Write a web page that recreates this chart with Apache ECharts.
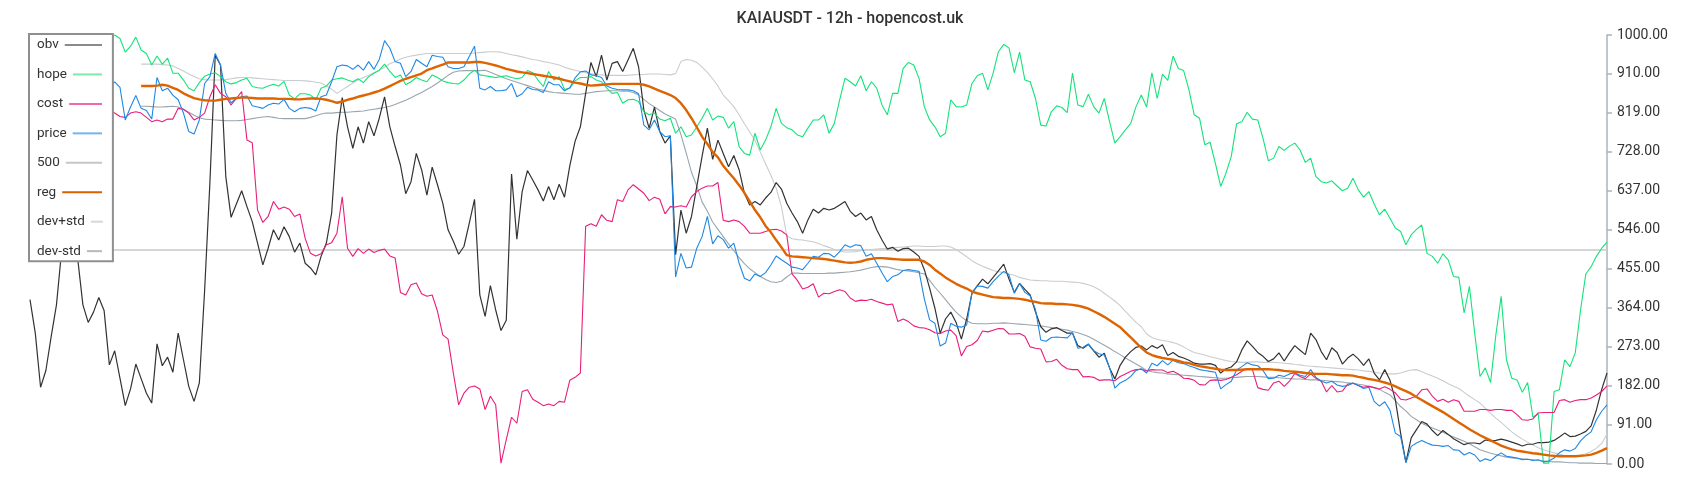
<!DOCTYPE html>
<html>
<head>
<meta charset="utf-8">
<script src="https://cdn.jsdelivr.net/npm/echarts@6/dist/echarts.min.js"></script>
<style>
  html, body { margin: 0; padding: 0; background: #fff; }
  #chart { width: 1700px; height: 500px; }
</style>
</head>
<body>
<div id="chart"></div>
<script>
const obv = [
383,305,179,218,297,371,500,580,540,480,
371,330,354,388,358,231,264,200,136,175,
233,199,165,142,280,229,249,214,305,243,
181,146,189,405,657,953,930,670,575,606,
637,600,565,515,464,503,546,522,553,530,
494,515,468,457,441,484,515,585,767,854,
786,736,786,748,798,765,806,856,786,740,
697,630,658,724,686,627,692,651,608,546,
519,489,507,561,617,394,344,416,359,311,
335,676,524,635,684,662,639,613,647,616,
652,622,695,752,786,864,936,903,953,895,
934,938,915,942,969,926,825,783,832,775,
748,765,488,592,538,577,647,717,783,710,
755,724,693,719,686,631,604,612,604,620,
633,656,641,608,585,565,538,569,594,585,
596,592,596,604,612,589,577,585,569,577,
546,522,501,505,496,502,503,494,484,453,
410,363,305,338,354,330,291,338,398,415,
431,420,435,450,466,431,400,421,407,394,
355,320,307,315,318,311,305,305,276,270,
279,264,249,258,224,198,230,249,262,272,
275,266,276,270,278,253,260,251,247,242,
235,233,233,234,230,212,222,226,238,266,
287,274,260,251,239,245,259,240,259,276,
265,255,305,290,262,243,271,260,233,247,
256,245,230,245,212,196,220,195,150,72,
4,61,80,99,93,78,66,78,69,59,
52,45,49,49,47,56,54,55,58,55,
51,47,42,46,46,50,50,51,55,63,
72,64,65,70,76,89,126,174,212
];
const hope = [
950,960,975,990,985,970,975,990,1000,985,
975,965,975,985,980,990,1000,992,960,974,
995,965,957,930,951,932,946,911,911,895,
876,870,889,904,909,912,903,891,886,889,
895,899,880,877,876,881,885,881,892,860,
851,863,863,860,849,876,881,895,898,900,
895,891,898,889,903,911,918,932,915,901,
907,884,891,901,895,891,907,901,893,889,
887,886,895,909,918,907,905,903,901,903,
905,901,898,901,917,912,895,880,915,895,
903,873,876,893,901,901,903,895,891,876,
864,866,841,849,850,845,821,814,818,804,
800,806,771,786,763,767,786,806,829,802,
811,808,783,798,740,724,720,771,732,755,
786,829,794,784,779,767,763,783,802,802,
814,771,794,849,899,891,881,905,870,891,
876,837,814,864,864,922,936,930,899,833,
802,786,763,771,849,833,832,837,887,905,
911,872,911,961,978,970,912,960,895,891,
852,790,788,821,835,831,819,911,837,833,
862,833,818,852,798,748,763,779,794,833,
860,832,912,852,909,894,951,922,917,872,
814,806,744,750,701,647,678,717,793,798,
820,804,802,759,707,713,740,731,741,748,
732,703,713,670,658,655,660,648,637,643,
666,639,622,635,606,581,594,573,550,542,
511,534,547,557,491,484,468,490,476,437,
435,352,414,305,204,224,190,301,391,243,
200,196,167,190,109,117,2,2,169,173,
243,227,259,359,443,460,484,503,517
];
const cost = [
815,820,812,818,825,815,808,815,822,818,
812,820,826,818,822,827,818,810,808,818,
821,818,808,798,802,798,804,804,829,827,
818,802,808,818,856,884,864,856,837,852,
868,755,749,592,563,577,612,594,599,594,
577,583,526,491,485,490,511,516,538,623,
503,484,502,491,501,493,498,501,485,480,
400,394,418,422,397,391,394,356,301,291,
212,138,165,179,182,175,127,158,138,2,
57,109,95,169,173,151,144,136,140,136,
146,144,195,202,212,554,560,554,581,568,
565,616,612,639,651,641,631,614,622,617,
583,600,599,602,599,623,635,643,648,648,
656,568,565,569,565,554,538,538,538,542,
546,547,543,534,443,428,408,412,420,389,
398,397,402,406,402,387,379,382,381,384,
379,375,371,373,332,338,332,322,318,317,
313,306,304,310,312,299,252,274,278,288,
310,308,312,316,315,303,303,304,298,273,
270,268,238,239,244,230,222,220,220,203,
204,202,195,196,196,194,204,210,216,220,
221,217,220,219,219,213,216,210,200,199,
195,185,184,195,196,195,197,202,208,216,
222,220,178,174,172,189,193,181,193,211,
204,199,210,200,193,168,183,168,170,186,
188,183,179,181,178,175,180,174,166,151,
149,154,158,173,175,158,146,151,144,150,
146,123,123,123,127,127,125,127,127,125,
125,115,103,102,105,119,120,120,120,148,
150,144,148,150,150,154,161,169,182
];
const price = [
870,880,890,875,860,880,895,870,855,865,
880,870,885,880,870,878,891,878,802,832,
859,829,824,804,901,870,876,860,849,818,
775,769,802,887,903,957,930,864,842,852,
856,858,835,832,829,837,841,839,850,829,
821,829,831,829,823,856,860,891,926,930,
928,920,930,918,938,920,943,987,969,938,
934,903,915,943,934,926,953,950,948,926,
922,922,926,950,974,876,872,880,870,870,
872,887,856,863,878,873,872,866,891,884,
884,870,877,900,914,916,907,905,901,881,
876,873,872,872,870,863,790,779,802,775,
763,765,436,491,457,459,503,530,577,513,
532,523,503,515,468,433,427,443,437,446,
464,485,476,468,459,457,453,468,484,482,
491,490,482,495,511,505,511,509,484,490,
468,446,425,437,441,451,453,451,449,385,
336,328,275,282,328,321,319,324,400,415,
414,410,425,438,449,441,398,421,400,392,
360,289,286,295,296,295,294,306,270,272,
280,264,257,254,225,177,189,195,204,218,
222,212,235,229,241,231,242,236,234,229,
225,220,218,216,214,175,185,193,219,227,
236,231,229,218,199,200,207,204,210,212,
207,204,220,202,193,189,193,184,181,183,
189,183,176,179,146,135,145,125,72,64,
3,41,49,55,49,44,43,41,43,33,
32,21,27,21,6,12,8,18,26,18,
16,14,10,11,8,10,5,7,14,26,
33,30,36,54,66,75,103,123,138
];
const reg = [
null,null,null,null,null,null,null,null,null,null,
null,null,null,null,null,null,null,null,null,null,
null,881,881,881,882,884,882,877,872,864,
858,853,850,848,847,847,849,851,852,853,
854,854,853,852,852,852,852,851,851,851,
850,850,851,852,852,851,849,846,842,845,
849,852,856,859,862,866,870,875,881,887,
893,898,902,906,910,918,922,927,931,936,
936,936,936,936,937,937,935,932,929,925,
921,918,915,913,911,909,907,905,903,901,
898,895,892,889,887,884,882,883,884,885,
886,886,886,886,886,886,884,880,875,870,
865,860,853,841,825,806,785,763,746,727,
715,695,680,666,650,632,612,592,575,555,
540,522,505,487,484,483,482,481,480,479,
478,476,474,472,470,469,470,472,476,478,
480,480,479,478,477,476,476,476,476,472,
464,453,444,435,427,420,414,409,402,398,
395,392,389,388,387,387,386,385,383,380,
378,375,374,374,373,373,372,371,369,366,
362,356,350,343,335,327,319,307,295,283,
271,260,254,250,247,245,243,240,237,235,
231,228,226,224,222,220,219,219,219,220,
221,221,221,221,221,220,219,217,216,215,
214,212,211,210,210,210,209,208,207,207,
206,203,201,198,196,193,190,186,181,175,
170,164,156,149,142,135,128,121,113,105,
97,89,81,74,67,61,55,49,43,38,
34,31,29,27,25,24,22,20,19,18,
18,18,18,19,20,22,26,31,37
];
const devPlus = [
null,null,null,null,null,null,null,null,null,null,
null,null,null,null,null,null,null,null,null,null,
null,932,932,932,932,931,930,928,922,916,
909,903,898,896,895,895,895,896,898,900,
901,901,900,899,898,897,896,895,894,894,
894,894,893,892,890,888,882,874,864,872,
880,888,895,901,906,912,918,925,933,938,
944,948,951,953,955,957,957,957,957,957,
957,957,957,957,958,959,960,961,961,960,
957,954,952,949,946,943,941,938,936,933,
930,925,921,918,915,912,910,908,907,906,
906,906,906,906,907,908,908,909,909,909,
908,907,910,938,943,941,936,925,913,898,
881,860,847,833,814,793,774,754,727,700,
673,643,600,532,525,523,522,520,518,514,
509,505,500,497,494,494,495,497,499,500,
501,502,503,504,505,506,507,508,508,507,
507,507,508,508,506,500,492,483,474,467,
461,456,451,448,446,443,440,435,432,429,
428,427,427,426,426,426,425,424,423,421,
418,413,407,398,389,380,369,356,343,330,
320,303,295,291,288,286,283,279,273,266,
260,257,254,250,247,244,241,239,238,237,
237,238,238,237,237,237,236,235,234,232,
231,229,228,227,226,225,224,223,222,221,
220,219,217,216,214,212,211,210,210,212,
216,219,220,215,210,205,200,194,187,181,
176,167,158,150,142,130,118,107,97,86,
75,66,58,51,44,38,33,29,26,23,
20,19,19,21,24,29,37,48,70
];
const devMinus = [
null,null,null,null,null,null,null,null,null,null,
null,null,null,null,null,null,null,null,null,null,
null,834,834,833,832,832,833,834,832,827,
820,813,807,804,803,802,801,800,800,800,
801,803,805,807,809,810,808,806,805,805,
805,805,805,808,812,816,818,818,819,820,
820,821,822,823,825,827,829,831,834,838,
843,848,854,860,866,873,880,888,897,906,
913,916,917,917,917,917,918,913,908,903,
898,894,890,886,882,878,874,871,868,866,
865,864,863,862,862,864,866,868,869,870,
870,870,869,869,866,860,850,840,832,824,
816,810,804,768,725,680,648,611,589,564,
547,530,513,497,481,467,455,446,437,430,
425,423,426,436,445,445,444,444,444,444,
444,445,445,446,447,448,450,452,455,458,
460,460,459,456,453,451,450,448,446,443,
428,412,398,383,368,354,343,334,328,327,
327,327,328,328,329,328,327,326,325,324,
323,322,320,318,316,314,312,309,306,302,
297,291,284,277,270,262,255,247,240,233,
226,218,215,213,212,210,209,208,207,206,
205,204,203,202,201,200,200,201,202,203,
204,204,204,203,202,202,201,200,199,198,
198,197,196,196,195,194,193,192,191,189,
188,186,184,181,178,174,167,161,148,134,
124,111,103,95,89,84,79,74,68,63,
58,53,47,40,33,29,25,22,19,16,
14,13,12,11,10,8,7,6,5,5,
4,3,3,2,2,2,1,1,1
];
const threshold = 500;
const yTickInterval = 91;
const categories = obv.map((_, i) => i);
const seriesNames = ['obv', 'hope', 'cost', 'price', '500', 'reg', 'dev+std', 'dev-std'];

const lineColors = {
  'obv': '#333333', 'hope': '#14e37a', 'cost': '#e91e7a', 'price': '#1e88e5',
  '500': '#c8c8c8', 'reg': '#dd6400', 'dev+std': '#c8cdd1', 'dev-std': '#9aa5ad'
};
const legendColors = {
  'obv': '#8a8a8a', 'hope': '#7ee8ab', 'cost': '#ee6aaa', 'price': '#74b3ec',
  '500': '#c6c6c6', 'reg': '#d96100', 'dev+std': '#d4d8db', 'dev-std': '#b1bac0'
};

const FONT = 'Roboto, "Noto Sans", sans-serif';
const LEGEND_FS = 13.5;
const ctx = document.createElement('canvas').getContext('2d');
ctx.font = LEGEND_FS + 'px Roboto';
const rich = { t: { fontSize: LEGEND_FS, fontFamily: FONT, color: '#333' }, g: { width: 6, height: 2 } };
seriesNames.forEach((n, k) => {
  const w = ctx.measureText(n).width;
  rich['l' + k] = { width: Math.max(12, 65 - w - 6), height: 2, backgroundColor: legendColors[n], verticalAlign: 'middle' };
});

function lineSeries(name, data, width, z) {
  return {
    name, type: 'line', data, showSymbol: false, symbol: 'none', z: z || 2,
    lineStyle: { color: lineColors[name], width: width },
    itemStyle: { color: lineColors[name] },
    emphasis: { disabled: true }
  };
}

const chart = echarts.init(document.getElementById('chart'), null, { renderer: 'canvas' });
chart.setOption({
  animation: false,
  backgroundColor: '#fff',
  title: {
    text: 'KAIAUSDT - 12h - hopencost.uk',
    left: 'center', top: 6,
    textStyle: { fontSize: 16, fontWeight: 500, color: '#333', fontFamily: FONT }
  },
  legend: {
    orient: 'vertical', left: 29, top: 34, z: 20,
    padding: [4, 10, 3, 2],
    itemGap: 15.45, itemWidth: 0, itemHeight: 0,
    backgroundColor: '#fff', borderColor: '#8f8f8f', borderWidth: 2,
    data: seriesNames,
    formatter: (name) => '{t|' + name + '}{g|}{l' + seriesNames.indexOf(name) + '|}',
    textStyle: { rich: rich, fontFamily: FONT, fontSize: LEGEND_FS },
    selectedMode: false
  },
  grid: { left: 30, right: 93, top: 35, bottom: 36, containLabel: false },
  xAxis: { type: 'category', data: categories, boundaryGap: false, show: false },
  yAxis: {
    type: 'value', position: 'right', min: 0, max: 1000, interval: yTickInterval,
    axisLine: { show: true, lineStyle: { color: '#aab4bb', width: 1.5 } },
    axisTick: { show: true, length: 5, lineStyle: { color: '#aab4bb', width: 1.5 } },
    axisLabel: { formatter: (v) => v.toFixed(2), fontSize: 14, color: '#333', margin: 10, fontFamily: FONT },
    splitLine: { show: false }
  },
  series: [
    lineSeries('obv', obv, 1.2, 3),
    lineSeries('hope', hope, 1.1, 3),
    lineSeries('cost', cost, 1.1, 3),
    lineSeries('price', price, 1.1, 3),
    {
      name: '500', type: 'line', data: [], showSymbol: false, symbol: 'none',
      lineStyle: { color: lineColors['500'], width: 1.5 }, itemStyle: { color: lineColors['500'] },
      markLine: {
        silent: true, symbol: 'none', label: { show: false }, z: 2,
        lineStyle: { color: lineColors['500'], width: 1.5, type: 'solid' },
        data: [{ yAxis: threshold }]
      }
    },
    lineSeries('reg', reg, 2.4, 4),
    lineSeries('dev+std', devPlus, 1.1, 2),
    lineSeries('dev-std', devMinus, 1.1, 2)
  ]
});
</script>
</body>
</html>
